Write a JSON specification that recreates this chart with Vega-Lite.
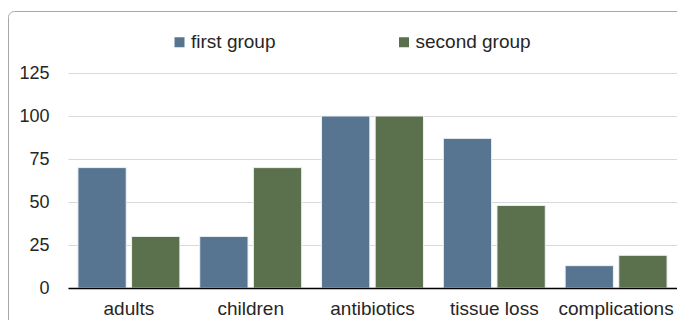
{
  "$schema": "https://vega.github.io/schema/vega-lite/v6.json",
  "width": 609,
  "height": 215,
  "autosize": {"type": "none"},
  "padding": {"left": 68, "top": 73, "right": 0, "bottom": 32},
  "background": "white",
  "config": {
    "view": {"stroke": null},
    "font": "Liberation Sans"
  },
  "data": {
    "values": [
      {"category": "adults", "group": "first group", "value": 70},
      {"category": "adults", "group": "second group", "value": 30},
      {"category": "children", "group": "first group", "value": 30},
      {"category": "children", "group": "second group", "value": 70},
      {"category": "antibiotics", "group": "first group", "value": 100},
      {"category": "antibiotics", "group": "second group", "value": 100},
      {"category": "tissue loss", "group": "first group", "value": 87},
      {"category": "tissue loss", "group": "second group", "value": 48},
      {"category": "complications", "group": "first group", "value": 13},
      {"category": "complications", "group": "second group", "value": 19}
    ]
  },
  "layer": [
    {
      "mark": {"type": "bar", "stroke": "#eef1f4", "strokeWidth": 1},
      "encoding": {
        "x": {
          "field": "category",
          "type": "nominal",
          "sort": ["adults", "children", "antibiotics", "tissue loss", "complications"],
          "scale": {"paddingInner": 0.163, "paddingOuter": 0.0815},
          "axis": {
            "title": null,
            "labelAngle": 0,
            "ticks": false,
            "tickSize": 0,
            "domainColor": "#000000",
            "domainWidth": 1.5,
            "labelPadding": 26.5,
            "labelBaseline": "alphabetic",
            "labelFontSize": 19,
            "labelFont": "Liberation Sans",
            "labelColor": "#262626",
            "grid": false,
            "zindex": 1
          }
        },
        "xOffset": {
          "field": "group",
          "type": "nominal",
          "sort": ["first group", "second group"],
          "scale": {"paddingInner": 0.1, "paddingOuter": 0}
        },
        "y": {
          "field": "value",
          "type": "quantitative",
          "scale": {"domain": [0, 125], "nice": false},
          "axis": {
            "title": null,
            "values": [0, 25, 50, 75, 100, 125],
            "domain": false,
            "ticks": false,
            "tickSize": 0,
            "labelPadding": 19,
            "labelFontSize": 18,
            "labelFont": "Liberation Sans",
            "labelColor": "#262626",
            "gridColor": "#d9d9d9",
            "gridWidth": 1
          }
        },
        "color": {
          "field": "group",
          "type": "nominal",
          "scale": {"domain": ["first group", "second group"], "range": ["#577591", "#5b704d"]},
          "legend": {
            "title": null,
            "orient": "none",
            "direction": "horizontal",
            "legendX": 102,
            "legendY": -40.5,
            "padding": 0,
            "symbolType": "square",
            "symbolSize": 100,
            "symbolStrokeWidth": 0,
            "labelOffset": 2,
            "labelFontSize": 19,
            "labelFont": "Liberation Sans",
            "labelColor": "#262626",
            "columnPadding": 118.5
          }
        }
      }
    },
    {
      "mark": {"type": "point", "opacity": 0},
      "encoding": {
        "x": {"field": "category", "type": "nominal", "sort": ["adults", "children", "antibiotics", "tissue loss", "complications"]},
        "y": {"field": "value", "type": "quantitative"},
        "shape": {
          "field": "category",
          "type": "nominal",
          "legend": {
            "title": null,
            "orient": "none",
            "legendX": -60,
            "legendY": -62,
            "padding": 400,
            "strokeColor": "#a6a6a6",
            "cornerRadius": 6,
            "symbolOpacity": 0,
            "labelExpr": "''"
          }
        }
      }
    }
  ]
}
